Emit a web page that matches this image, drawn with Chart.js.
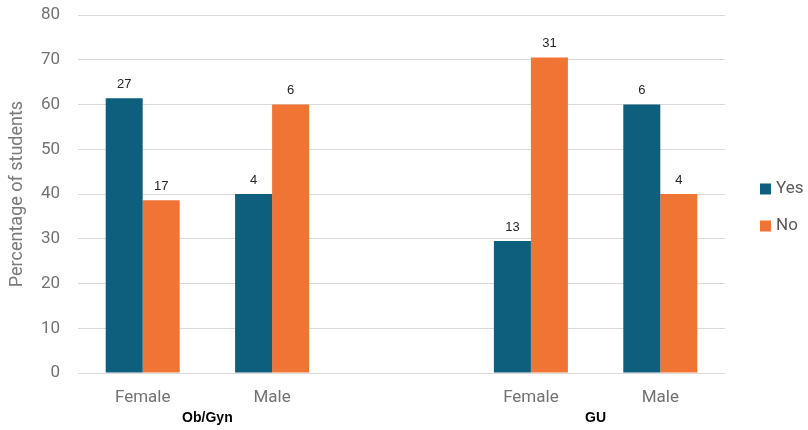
<!DOCTYPE html>
<html>
<head>
<meta charset="utf-8">
<script src="https://cdn.jsdelivr.net/npm/chart.js@4"></script>
<style>
  html, body { margin: 0; padding: 0; background: #ffffff; }
  #wrap { width: 808px; height: 430px; }
</style>
</head>
<body>
<div id="wrap"><canvas id="chart" width="808" height="430"></canvas></div>
<script>
// Categories along the x axis (the blank slot separates the two groups)
const categories = ['Female', 'Male', '', 'Female', 'Male'];
// Group each category belongs to, and the group names printed under them
const groupOf = [0, 0, null, 1, 1];
const groupNames = ['Ob/Gyn', 'GU'];

// Share of students (%) answering Yes / No
const yesPercent = [61.4, 40, null, 29.5, 60];
const noPercent  = [38.6, 60, null, 70.5, 40];

// Number of students behind each bar
const yesCount = [27, 4, null, 13, 6];
const noCount  = [17, 6, null, 31, 4];

// Y axis range and step
const yMin = 0;
const yMax = 80;
const yStep = 10;

const seriesNames = ['Yes', 'No'];
const counts = [yesCount, noCount];

const TEAL = '#0E5E7E';
const ORANGE = '#F07434';
const AXIS_TEXT = '#727272';
const LABEL_FONT = '"Liberation Sans", Arial, sans-serif';
const AXIS_FONT = 'Roboto, "Liberation Sans", sans-serif';

// Count labels above each bar
const countLabels = {
  id: 'countLabels',
  afterDatasetsDraw(chart) {
    const ctx = chart.ctx;
    ctx.save();
    ctx.font = '13px ' + LABEL_FONT;
    ctx.fillStyle = '#262626';
    ctx.textAlign = 'center';
    ctx.textBaseline = 'middle';
    chart.data.datasets.forEach((ds, i) => {
      const meta = chart.getDatasetMeta(i);
      counts[i].forEach((n, j) => {
        if (n === null) return;
        const el = meta.data[j];
        ctx.fillText(String(n), el.x, el.y - 14);
      });
    });
    ctx.restore();
  }
};

// Bold group names centred under their categories
const groupLabels = {
  id: 'groupLabels',
  afterDraw(chart) {
    const ctx = chart.ctx;
    const xs = chart.scales.x;
    ctx.save();
    ctx.font = 'bold 14px ' + LABEL_FONT;
    ctx.fillStyle = '#000000';
    ctx.textAlign = 'center';
    ctx.textBaseline = 'middle';
    groupNames.forEach((name, g) => {
      const px = [];
      groupOf.forEach((gi, idx) => { if (gi === g) px.push(xs.getPixelForValue(idx)); });
      const cx = px.reduce((a, b) => a + b, 0) / px.length;
      ctx.fillText(name, cx, 418);
    });
    ctx.restore();
  }
};

// Legend on the right side
const sideLegend = {
  id: 'sideLegend',
  afterDraw(chart) {
    const ctx = chart.ctx;
    ctx.save();
    ctx.font = '17px ' + AXIS_FONT;
    ctx.textAlign = 'left';
    ctx.textBaseline = 'middle';
    chart.data.datasets.forEach((ds, i) => {
      const cy = 189 + i * 37;
      ctx.fillStyle = ds.backgroundColor;
      ctx.fillRect(760, cy - 5.5, 11, 11);
      ctx.fillStyle = '#595959';
      ctx.fillText(ds.label, 776, cy);
    });
    ctx.restore();
  }
};

new Chart(document.getElementById('chart'), {
  type: 'bar',
  data: {
    labels: categories,
    datasets: [
      { label: seriesNames[0], data: yesPercent, backgroundColor: TEAL,
        categoryPercentage: 0.572, barPercentage: 1.0 },
      { label: seriesNames[1], data: noPercent, backgroundColor: ORANGE,
        categoryPercentage: 0.572, barPercentage: 1.0 }
    ]
  },
  options: {
    responsive: false,
    animation: false,
    devicePixelRatio: 1,
    layout: { padding: { top: 15, right: 83, left: 0, bottom: 0 } },
    plugins: {
      legend: { display: false },
      tooltip: { enabled: false }
    },
    scales: {
      x: {
        grid: { display: false, drawTicks: false },
        border: { display: false },
        ticks: {
          color: AXIS_TEXT,
          font: { family: AXIS_FONT, size: 17 },
          padding: 15,
          maxRotation: 0,
          autoSkip: false
        },
        afterFit(scale) { scale.height = 57; }
      },
      y: {
        min: yMin,
        max: yMax,
        ticks: {
          stepSize: yStep,
          color: AXIS_TEXT,
          font: { family: AXIS_FONT, size: 17 },
          padding: 18
        },
        grid: { color: '#d9d9d9', lineWidth: 1, drawTicks: false },
        border: { display: false },
        title: {
          display: true,
          text: 'Percentage of students',
          color: '#7a7a7a',
          font: { family: AXIS_FONT, size: 18 },
          padding: { top: 7, bottom: 0 }
        },
        afterFit(scale) {
          scale.width = 78;
          scale.paddingTop = 0;
          scale.paddingBottom = 0;
        }
      }
    }
  },
  plugins: [countLabels, groupLabels, sideLegend]
});
</script>
</body>
</html>
